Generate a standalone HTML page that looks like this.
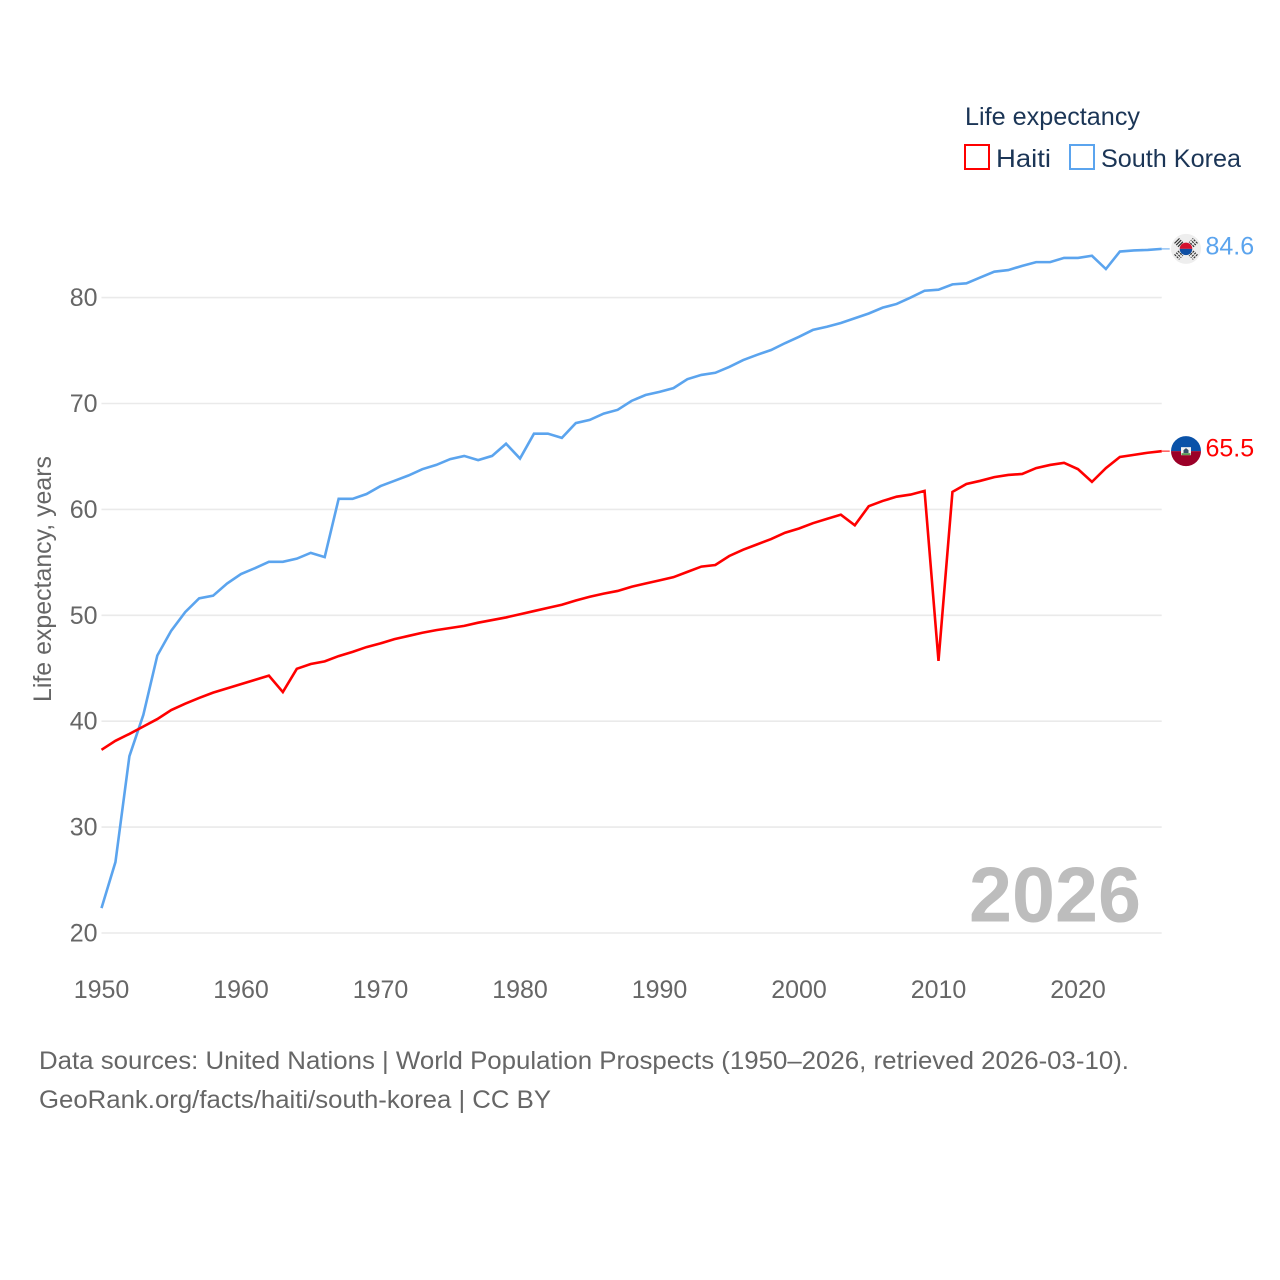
<!DOCTYPE html>
<html lang="en">
<head>
<meta charset="utf-8">
<title>Life expectancy: Haiti and South Korea</title>
<style>
  html, body { margin: 0; padding: 0; background: #fff; }
  svg { display: block; font-family: "Liberation Sans", sans-serif; }
</style>
</head>
<body>
<svg id="chart" xmlns="http://www.w3.org/2000/svg" width="1280" height="1280" viewBox="0 0 1280 1280">
  <rect x="0" y="0" width="1280" height="1280" fill="#ffffff"/>
  <g id="grid"></g>
  <g id="y-ticks"></g>
  <g id="x-ticks"></g>
  <text transform="translate(51 579) rotate(-90)" text-anchor="middle" font-size="25" fill="#666666" textLength="246" lengthAdjust="spacingAndGlyphs">Life expectancy, years</text>
  <text x="969" y="921.5" font-size="78" font-weight="700" fill="#bdbdbd" textLength="172" lengthAdjust="spacingAndGlyphs">2026</text>
  <g id="series"></g>

  <g id="flag-korea">
    <circle cx="0" cy="0" r="15" fill="#eeeeee"/>
    <path d="M-6.3 0 A6.3 6.3 0 0 1 6.3 0 Z" fill="#d3122f"/>
    <path d="M-6.3 0 A6.3 6.3 0 0 0 6.3 0 Z" fill="#0f4fa3"/>
    <g stroke="#333333" stroke-width="1.2" fill="none">
      <path d="M-11.5 -5.5 L-6.5 -10.5 M-9.8 -3.8 L-4.8 -8.8 M-8.1 -2.1 L-3.1 -7.1"/>
      <path d="M11.5 -5.5 L6.5 -10.5 M9.8 -3.8 L4.8 -8.8 M8.1 -2.1 L3.1 -7.1" stroke-dasharray="2.2 0.9"/>
      <path d="M-11.5 5.5 L-6.5 10.5 M-9.8 3.8 L-4.8 8.8 M-8.1 2.1 L-3.1 7.1" stroke-dasharray="2.2 0.9"/>
      <path d="M11.5 5.5 L6.5 10.5 M9.8 3.8 L4.8 8.8 M8.1 2.1 L3.1 7.1" stroke-dasharray="2.2 0.9"/>
    </g>
  </g>
  <g id="flag-haiti">
    <path d="M-15 0 A15 15 0 0 1 15 0 Z" fill="#0a52a8"/>
    <path d="M-15 0 A15 15 0 0 0 15 0 Z" fill="#9b0028"/>
    <rect x="-5" y="-4" width="10" height="8" fill="#f3f3f3"/>
    <path d="M-2.5 2 L-2.5 -1 L0 -3 L2.5 -1 L2.5 2 Z" fill="#35506b"/>
    <rect x="-4.5" y="2" width="9" height="2" fill="#5d9a55"/>
  </g>
  <g id="value-labels"></g>

  <g>
    <text x="965" y="125" font-size="25" fill="#1b3556" textLength="175" lengthAdjust="spacingAndGlyphs">Life expectancy</text>
    <g>
      <rect x="965" y="145" width="24" height="24" fill="none" stroke="#ff0000" stroke-width="2"/>
      <text x="996" y="167" font-size="25" fill="#1b3556" textLength="55" lengthAdjust="spacingAndGlyphs">Haiti</text>
    </g>
    <g>
      <rect x="1070" y="145" width="24" height="24" fill="none" stroke="#5ba4ee" stroke-width="2"/>
      <text x="1101" y="167" font-size="25" fill="#1b3556" textLength="140" lengthAdjust="spacingAndGlyphs">South Korea</text>
    </g>
  </g>

  <text x="39" y="1069" font-size="25" fill="#666666" textLength="1090" lengthAdjust="spacingAndGlyphs">Data sources: United Nations | World Population Prospects (1950–2026, retrieved 2026-03-10).</text>
  <text x="39" y="1108" font-size="25" fill="#666666" textLength="512" lengthAdjust="spacingAndGlyphs">GeoRank.org/facts/haiti/south-korea | CC BY</text>
</svg>
<script>
var startYear = 1950;
var yTickValues = [20, 30, 40, 50, 60, 70, 80];
var xTickValues = [1950, 1960, 1970, 1980, 1990, 2000, 2010, 2020];
var haitiValues = [
  37.3, 38.15, 38.8, 39.5, 40.2, 41.05, 41.65, 42.2, 42.7, 43.1,
  43.5, 43.9, 44.3, 42.75, 44.95, 45.4, 45.65, 46.15, 46.55, 47.0,
  47.35, 47.75, 48.05, 48.35, 48.6, 48.8, 49.0, 49.3, 49.55, 49.8,
  50.1, 50.4, 50.7, 51.0, 51.4, 51.75, 52.05, 52.3, 52.7, 53.0,
  53.3, 53.6, 54.1, 54.6, 54.75, 55.6, 56.2, 56.7, 57.2, 57.8,
  58.2, 58.7, 59.1, 59.5, 58.5, 60.3, 60.8, 61.2, 61.4, 61.75,
  45.7, 61.65, 62.4, 62.7, 63.05, 63.25, 63.35, 63.9, 64.2, 64.4,
  63.8, 62.6, 63.9, 64.95, 65.15, 65.35, 65.5
];
var southKoreaValues = [
  22.35, 26.7, 36.7, 40.6, 46.2, 48.55, 50.3, 51.6, 51.85, 53.0,
  53.9, 54.45, 55.05, 55.05, 55.35, 55.9, 55.5, 61.0, 61.0, 61.45,
  62.2, 62.7, 63.2, 63.8, 64.2, 64.75, 65.05, 64.65, 65.05, 66.2,
  64.8, 67.15, 67.15, 66.75, 68.15, 68.45, 69.05, 69.4, 70.25, 70.8,
  71.1, 71.45, 72.3, 72.7, 72.9, 73.45, 74.1, 74.6, 75.05, 75.7,
  76.3, 76.95, 77.25, 77.6, 78.05, 78.5, 79.05, 79.4, 80.0, 80.65,
  80.75, 81.25, 81.35, 81.9, 82.45, 82.6, 83.0, 83.35, 83.35, 83.75,
  83.75, 83.95, 82.7, 84.35, 84.45, 84.5, 84.6
];
var haitiColor = '#ff0000';
var koreaColor = '#5ba4ee';

function xScale(year) { return 101.5 + (year - 1950) * 13.95; }
function yScale(value) { return 933 - (value - 20) * 10.59; }
var svgNS = 'http://www.w3.org/2000/svg';
function make(tag, parentId) {
  var el = document.createElementNS(svgNS, tag);
  document.getElementById(parentId).appendChild(el);
  return el;
}
function linePath(values) {
  return values.map(function (v, i) {
    return (i ? 'L' : 'M') + xScale(startYear + i).toFixed(2) + ' ' + yScale(v).toFixed(2);
  }).join(' ');
}

yTickValues.forEach(function (v) {
  var line = make('line', 'grid');
  
  
  line.setAttribute('x1', xScale(1950));
  line.setAttribute('x2', xScale(2026));
  line.setAttribute('y1', yScale(v));
  line.setAttribute('y2', yScale(v));
  line.setAttribute('stroke', '#eaeaea');
  line.setAttribute('stroke-width', '1.6');

  var label = make('text', 'y-ticks');
  
  
  label.setAttribute('x', '97.5');
  label.setAttribute('y', yScale(v) + 8.5);
  label.setAttribute('text-anchor', 'end');
  label.setAttribute('font-size', '25');
  label.setAttribute('fill', '#666666');
  label.textContent = v;
});

xTickValues.forEach(function (yr) {
  var label = make('text', 'x-ticks');
  
  
  label.setAttribute('x', xScale(yr));
  label.setAttribute('y', '998');
  label.setAttribute('text-anchor', 'middle');
  label.setAttribute('font-size', '25');
  label.setAttribute('fill', '#666666');
  label.textContent = yr;
});

var koreaLine = make('path', 'series');


koreaLine.setAttribute('d', linePath(southKoreaValues));
koreaLine.setAttribute('fill', 'none');
koreaLine.setAttribute('stroke', koreaColor);
koreaLine.setAttribute('stroke-width', '2.6');
koreaLine.setAttribute('stroke-linejoin', 'miter');

var haitiLine = make('path', 'series');


haitiLine.setAttribute('d', linePath(haitiValues));
haitiLine.setAttribute('fill', 'none');
haitiLine.setAttribute('stroke', haitiColor);
haitiLine.setAttribute('stroke-width', '2.6');
haitiLine.setAttribute('stroke-linejoin', 'miter');

var lastKorea = southKoreaValues[southKoreaValues.length - 1];
var lastHaiti = haitiValues[haitiValues.length - 1];
var endX = xScale(startYear + southKoreaValues.length - 1);

var koreaConnector = make('line', 'series');


koreaConnector.setAttribute('x1', endX);
koreaConnector.setAttribute('x2', endX + 8);
koreaConnector.setAttribute('y1', yScale(lastKorea));
koreaConnector.setAttribute('y2', yScale(lastKorea));
koreaConnector.setAttribute('stroke', koreaColor);
koreaConnector.setAttribute('stroke-opacity', '0.7');
koreaConnector.setAttribute('stroke-width', '1.4');

var haitiConnector = make('line', 'series');


haitiConnector.setAttribute('x1', endX);
haitiConnector.setAttribute('x2', endX + 8);
haitiConnector.setAttribute('y1', yScale(lastHaiti));
haitiConnector.setAttribute('y2', yScale(lastHaiti));
haitiConnector.setAttribute('stroke', haitiColor);
haitiConnector.setAttribute('stroke-opacity', '0.7');
haitiConnector.setAttribute('stroke-width', '1.4');

document.getElementById('flag-korea').setAttribute('transform', 'translate(1186 ' + yScale(lastKorea) + ')');
document.getElementById('flag-haiti').setAttribute('transform', 'translate(1186 ' + yScale(lastHaiti) + ')');

var koreaValue = make('text', 'value-labels');


koreaValue.setAttribute('x', '1205.5');
koreaValue.setAttribute('y', yScale(lastKorea) + 5.5);
koreaValue.setAttribute('font-size', '25');
koreaValue.setAttribute('fill', koreaColor);
koreaValue.textContent = lastKorea.toFixed(1);

var haitiValue = make('text', 'value-labels');


haitiValue.setAttribute('x', '1205.5');
haitiValue.setAttribute('y', yScale(lastHaiti) + 5.5);
haitiValue.setAttribute('font-size', '25');
haitiValue.setAttribute('fill', haitiColor);
haitiValue.textContent = lastHaiti.toFixed(1);
</script>
</body>
</html>
